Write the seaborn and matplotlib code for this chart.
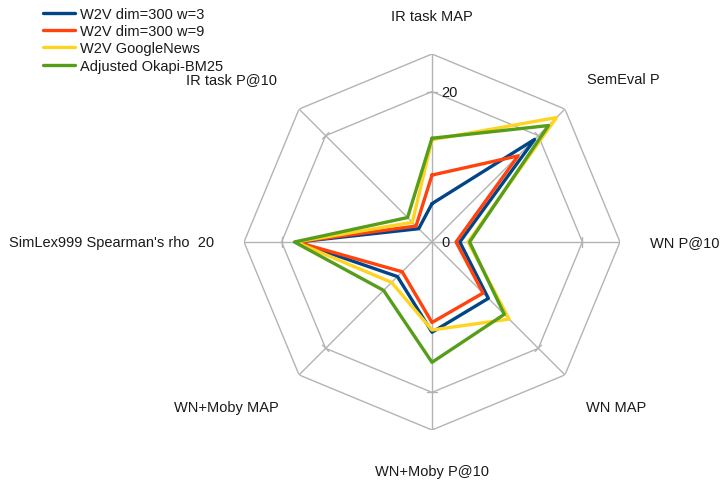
import numpy as np
import pandas as pd
import matplotlib
matplotlib.use("Agg")
import matplotlib.pyplot as plt
import seaborn as sns

# ---- data ----
categories = ["IR task MAP", "SemEval P", "WN P@10", "WN MAP",
              "WN+Moby P@10", "WN+Moby MAP", "SimLex999 Spearman's rho", "IR task P@10"]
series_names = ["W2V dim=300 w=3", "W2V dim=300 w=9", "W2V GoogleNews", "Adjusted Okapi-BM25"]
w2v_w3 = [5.1, 19.3, 3.7, 10.6, 12.0, 6.5, 17.9, 2.5]
w2v_w9 = [8.9, 16.2, 3.2, 9.6, 10.7, 5.6, 18.0, 3.0]
w2v_gnews = [13.6, 23.4, 4.8, 14.5, 11.7, 7.6, 18.1, 3.7]
okapi = [13.8, 21.9, 5.0, 13.6, 16.0, 9.1, 18.3, 4.6]
tick_values = [0, 20]
r_max = 25
colors = ["#004586", "#ff420e", "#ffd320", "#579d1c"]

sns.set_style("white")
plt.rcParams["font.family"] = ["Liberation Sans", "DejaVu Sans"]

W, H = 722, 481
fig = plt.figure(figsize=(W / 100, H / 100), dpi=100)
cx, cy, R = 432, 243, 188
ax = fig.add_axes([(cx - R) / W, (H - cy - R) / H, 2 * R / W, 2 * R / H], projection="polar")
ax.set_theta_zero_location("N")
ax.set_theta_direction(-1)

n = len(categories)
angles = [2 * np.pi * i / n for i in range(n)]
angles_closed = angles + [2 * np.pi]

rows = []
for name, vals in zip(series_names, [w2v_w3, w2v_w9, w2v_gnews, okapi]):
    for order, (a, v) in enumerate(zip(angles_closed, list(vals) + [vals[0]])):
        rows.append({"series": name, "theta": a, "value": v, "order": order})
df = pd.DataFrame(rows)

grid_c = "#b3b3b3"
# grid polygons
for rv in tick_values[1:] + [r_max]:
    ax.plot(angles_closed, [rv] * (n + 1), color=grid_c, lw=1.0, zorder=1)
# spokes
for a in angles:
    ax.plot([a, a], [0, r_max], color=grid_c, lw=1.0, zorder=1)
    # small tick marks on the 20 ring
    d = 0.03
    ax.plot([a - d, a + d], [tick_values[1], tick_values[1]], color=grid_c, lw=1.0, zorder=1)

lw = 2.4
sns.lineplot(data=df, x="theta", y="value", hue="series", hue_order=series_names,
             palette=dict(zip(series_names, colors)), sort=False, estimator=None,
             units="series", lw=lw, ax=ax, legend=False, zorder=3)

ax.set_ylim(0, r_max)
ax.grid(False)
ax.set_xticks([])
ax.set_yticks([])
ax.spines["polar"].set_visible(False)
ax.set_xlabel("")
ax.set_ylabel("")
ax.patch.set_alpha(0)

fs = 10.5
tc = "#1a1a1a"
# tick labels
for tv in tick_values:
    ax.annotate(str(tv), xy=(0, tv), xytext=(9, 0), textcoords="offset pixels",
                ha="left", va="center", fontsize=fs, color=tc)

# category labels (pixel positions of label centers)
label_pos = [(432, 17), (623, 80), (685, 243), (616, 408),
             (432, 472), (226, 408), (112, 243), (232, 80)]
for cat, (px, py) in zip(categories, label_pos):
    txt = cat
    if cat.startswith("SimLex"):
        txt = cat + "  20"
    fig.text(px / W, 1 - py / H, txt, ha="center", va="center", fontsize=fs, color=tc)

# legend
handles = [plt.Line2D([], [], color=c, lw=lw) for c in colors]
fig.legend(handles, series_names, loc="upper left", bbox_to_anchor=(43 / W, 1 - 8 / H),
           frameon=False, fontsize=fs, handlelength=2.2, handletextpad=0.35,
           labelspacing=0.22, borderpad=0, borderaxespad=0, labelcolor=tc)

fig.savefig("out.png", dpi=100)
